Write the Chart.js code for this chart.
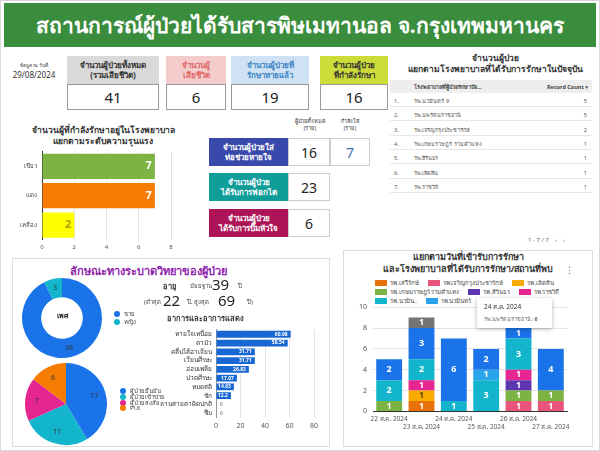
<!DOCTYPE html>
<html>
<head>
<meta charset="utf-8">
<script src="https://cdn.jsdelivr.net/npm/chart.js@4"></script>
<style>
  body { margin: 0; background: #fff; font-family: "Noto Sans", "DejaVu Sans", sans-serif; }
  #page { position: relative; width: 600px; height: 451px; overflow: hidden; background: #fff; }
  .abs { position: absolute; }
  canvas { position: absolute; }
  .hdr { position: absolute; text-align: center; font-weight: bold; font-size: 8px; line-height: 10px; display: flex; align-items: center; justify-content: center; box-sizing: border-box; }
  .val { position: absolute; text-align: center; font-size: 15px; color: #222; background: #fff; border: 1px solid #9a9a9a; box-sizing: border-box; display: flex; align-items: center; justify-content: center; }
  .trow { position: absolute; left: 390px; width: 202px; height: 14px; font-size: 5.5px; color: #555; border-bottom: 1px solid #e6e6e6; box-sizing: border-box; }
  .trow span { position: absolute; top: 4px; }
  .leg { position: absolute; font-size: 6px; color: #444; white-space: nowrap; }
  .dot { display: inline-block; width: 6px; height: 6px; border-radius: 50%; margin-right: 4px; vertical-align: middle; }
</style>
</head>
<body>
<div id="page">
  <div class="abs" style="left:0;top:0;width:598px;height:449px;border:1px solid #d8d8d8;"></div>
  <div class="abs" style="left:4px;top:3px;width:592px;height:44px;background:#3a8d3d;color:#fff;font-weight:bold;font-size:21px;display:flex;align-items:center;justify-content:center;">สถานการณ์ผู้ป่วยได้รับสารพิษเมทานอล จ.กรุงเทพมหานคร</div>

  <div class="abs" style="left:6px;top:61px;width:56px;text-align:center;font-size:5px;color:#444;">ข้อมูล ณ วันที่</div>
  <div class="abs" style="left:4px;top:69px;width:60px;text-align:center;font-size:8px;color:#333;">29/08/2024</div>
  <div id="kpis"></div>
  <div id="mid"></div>

  <div class="abs" style="left:390px;top:52px;width:210px;text-align:center;font-size:8.5px;font-weight:bold;color:#333;line-height:11px;">จำนวนผู้ป่วย<br>แยกตามโรงพยาบาลที่ได้รับการรักษาในปัจจุบัน</div>
  <div class="abs" style="left:390px;top:80px;width:202px;height:13px;background:#eeeeee;font-size:5.5px;font-weight:bold;color:#444;">
    <span class="abs" style="left:24px;top:3px;">โรงพยาบาลที่ผู้ป่วยรักษาปัจ...</span>
    <span class="abs" style="right:4px;top:3px;">Record Count ▾</span>
  </div>
  <div id="tbl"></div>
  <div class="abs" style="left:528px;top:236px;font-size:6px;color:#666;">1 - 7 / 7 &nbsp;&nbsp; ‹ &nbsp;&nbsp; ›</div>

  <div class="abs" style="left:8px;top:124px;width:190px;text-align:center;font-size:8.5px;font-weight:bold;color:#333;line-height:11px;">จำนวนผู้ที่กำลังรักษาอยู่ในโรงพยาบาล<br>แยกตามระดับความรุนแรง</div>
  <canvas id="sev" width="186" height="112" style="left:0;top:143px;"></canvas>

  <div class="abs" style="left:12px;top:258px;width:318px;height:189px;border:1px solid #dedede;box-sizing:border-box;"></div>
  <div class="abs" style="left:12px;top:262px;width:272px;text-align:center;font-size:11px;font-weight:bold;color:#8e24aa;">ลักษณะทางระบาดวิทยาของผู้ป่วย</div>
  <canvas id="sex" width="86" height="86" style="left:19px;top:275px;"></canvas>
  <div class="abs" style="left:42px;top:310px;width:40px;text-align:center;font-size:7px;font-weight:bold;color:#222;">เพศ</div>
  <div id="sexLeg"></div>
  <canvas id="type" width="86" height="86" style="left:23px;top:361px;"></canvas>
  <div id="typeLeg"></div>

  <div class="abs" style="left:163px;top:280px;font-size:7.5px;font-weight:bold;color:#333;">อายุ</div>
  <div class="abs" style="left:190px;top:281px;font-size:6px;color:#444;">มัธยฐาน</div>
  <div class="abs" style="left:212px;top:274px;font-size:15px;color:#222;">39</div>
  <div class="abs" style="left:238px;top:281px;font-size:6px;color:#444;">ปี</div>
  <div class="abs" style="left:144px;top:297px;font-size:6px;color:#444;">(ต่ำสุด</div>
  <div class="abs" style="left:163px;top:290px;font-size:15px;color:#222;">22</div>
  <div class="abs" style="left:187px;top:297px;font-size:6px;color:#444;">ปี, สูงสุด</div>
  <div class="abs" style="left:218px;top:290px;font-size:15px;color:#222;">69</div>
  <div class="abs" style="left:247px;top:297px;font-size:6px;color:#444;">ปี)</div>
  <div class="abs" style="left:150px;top:312px;width:110px;text-align:center;font-size:7.5px;font-weight:bold;color:#333;">อาการและอาการแสดง</div>
  <canvas id="sym" width="184" height="112" style="left:140px;top:322px;"></canvas>

  <div class="abs" style="left:343px;top:250px;width:250px;height:197px;border:1px solid #dedede;box-sizing:border-box;"></div>
  <div class="abs" style="left:343px;top:251px;width:250px;text-align:center;font-size:9px;font-weight:bold;color:#333;line-height:12px;">แยกตามวันที่เข้ารับการรักษา<br>และโรงพยาบาลที่ได้รับการรักษา/สถานที่พบ</div>
  <div class="abs" style="left:565px;top:263px;font-size:9px;color:#555;">⋮</div>
  <div id="dayLeg" class="abs" style="left:375px;top:279px;width:205px;height:27px;overflow:hidden;display:flex;flex-wrap:wrap;"></div>
  <canvas id="day" width="234" height="138" style="left:343px;top:297px;"></canvas>
  <div class="abs" style="left:477px;top:298px;width:75px;height:30px;background:#fff;box-shadow:0 1px 4px rgba(0,0,0,0.3);border-radius:2px;">
    <div class="abs" style="left:7px;top:4px;font-size:6.5px;color:#333;">24 ส.ค. 2024</div>
    <div class="abs" style="left:7px;top:17px;font-size:5.5px;color:#666;">รพ.นพรัตนราชธานี: <b>6</b></div>
  </div>
</div>

<script>
const FONT = '"Noto Sans", "DejaVu Sans", sans-serif';

// ตัวเลขสรุป
const kpiNames = ['จำนวนผู้ป่วยทั้งหมด<br>(รวมเสียชีวิต)', 'จำนวนผู้<br>เสียชีวิต', 'จำนวนผู้ป่วยที่<br>รักษาหายแล้ว', 'จำนวนผู้ป่วย<br>ที่กำลังรักษา'];
const kpiValues = [41, 6, 19, 16];

const treatNames = ['จำนวนผู้ป่วยใส่<br>ท่อช่วยหายใจ', 'จำนวนผู้ป่วย<br>ได้รับการฟอกไต', 'จำนวนผู้ป่วย<br>ได้รับการปั๊มหัวใจ'];
const treatTotal = [16, 23, 6];
const treatNow = [7, null, null];

// ตาราง รพ.
const hospNames = ['รพ.นวมินทร์ 9', 'รพ.นพรัตนราชธานี', 'รพ.เจริญกรุงประชารักษ์', 'รพ.เกษมราษฎร์ รามคำแหง', 'รพ.สิรินธร', 'รพ.เลิดสิน', 'รพ.ราชวิถี'];
const hospCounts = [5, 5, 2, 1, 1, 1, 1];

// ระดับความรุนแรง
const sevLabels = ['เขียว', 'แดง', 'เหลือง'];
const sevValues = [7, 7, 2];

// เพศ
const sexLabels = ['ชาย', 'หญิง'];
const sexValues = [38, 3];

// ประเภทผู้ป่วย
const typeLabels = ['ผู้ป่วยยืนยัน', 'ผู้ป่วยเข้าข่าย', 'ผู้ป่วยสงสัย', 'PUI'];
const typeValues = [17, 11, 7, 6];

// อาการ (%)
const symLabels = ['หายใจเหนื่อย', 'ตามัว', 'คลื่นไส้อาเจียน', 'เวียนศีรษะ', 'อ่อนเพลีย', 'ปวดศีรษะ', 'หมดสติ', 'ชัก', 'ลานสายตาผิดปกติ', 'ซึม'];
const symValues = [60.98, 58.54, 31.71, 31.71, 26.83, 17.07, 14.63, 12.2, 0, 0];

// วันที่เข้ารับการรักษา
const days = ['22 ส.ค. 2024', '23 ส.ค. 2024', '24 ส.ค. 2024', '25 ส.ค. 2024', '26 ส.ค. 2024', '27 ส.ค. 2024'];
const daySeries = ['รพ.เสรีรักษ์', 'รพ.เจริญกรุงประชารักษ์', 'รพ.เลิดสิน', 'รพ.เกษมราษฎร์ รามคำแหง', 'รพ.สิรินธร', 'รพ.ราชวิถี', 'รพ.นวมิน..', 'รพ.นวมินทร์', 'รพ.นพรัตนราชธานี', 'อื่นๆ'];
const dayValues = [
  [0, 1, 0, 0, 0, 0],
  [0, 0, 0, 0, 1, 1],
  [0, 1, 0, 0, 0, 0],
  [1, 0, 0, 0, 1, 1],
  [0, 0, 0, 0, 1, 0],
  [0, 1, 0, 0, 1, 0],
  [2, 2, 1, 3, 3, 0],
  [0, 0, 0, 1, 0, 0],
  [2, 3, 6, 2, 1, 4],
  [0, 1, 0, 0, 0, 0]
];
const dayColors = ['#e8710a', '#e8547c', '#f9ab00', '#7cb342', '#5e35b1', '#e52592', '#12b5cb', '#2aa5ec', '#1a73e8', '#757575'];

// ---------- กล่องตัวเลข ----------
const kpiBox = [
  {x: 67, w: 92, bg: '#d9d9d9', fg: '#333'},
  {x: 166, w: 60, bg: '#f4cccc', fg: '#e06666'},
  {x: 231, w: 78, bg: '#cfe2f3', fg: '#3d85c6'},
  {x: 320, w: 68, bg: '#cddc39', fg: '#333'}
];
let html = '';
kpiNames.forEach(function(n, i) {
  const b = kpiBox[i];
  html += `<div class="hdr" style="left:${b.x}px;top:56px;width:${b.w}px;height:28px;background:${b.bg};color:${b.fg};">${n}</div>`;
  html += `<div class="val" style="left:${b.x}px;top:84px;width:${b.w}px;height:26px;">${kpiValues[i]}</div>`;
});
document.getElementById('kpis').innerHTML = html;

html = '<div class="abs" style="left:288px;top:118px;width:44px;text-align:center;font-size:5.5px;color:#333;line-height:7px;">ผู้ป่วยทั้งหมด<br>(ราย)</div>' +
       '<div class="abs" style="left:330px;top:118px;width:40px;text-align:center;font-size:5.5px;color:#333;line-height:7px;">กำลังใส่<br>(ราย)</div>';
const treatBg = ['#3949ab', '#0f9d9a', '#ad1457'];
const treatTop = [138, 173, 209];
treatNames.forEach(function(n, i) {
  html += `<div class="hdr" style="left:209px;top:${treatTop[i]}px;width:79px;height:28px;background:${treatBg[i]};color:#fff;">${n}</div>`;
  html += `<div class="val" style="left:288px;top:${treatTop[i]}px;width:42px;height:28px;font-size:14px;border-color:#ccc;">${treatTotal[i]}</div>`;
  if (treatNow[i] !== null) {
    html += `<div class="val" style="left:330px;top:${treatTop[i]}px;width:40px;height:28px;font-size:14px;color:#3d6fb6;border-color:#ccc;">${treatNow[i]}</div>`;
  }
});
document.getElementById('mid').innerHTML = html;

html = '';
hospNames.forEach(function(n, i) {
  html += `<div class="trow" style="top:${93 + i * 14.3}px;"><span style="left:4px;">${i + 1}.</span><span style="left:24px;">${n}</span><span style="right:5px;">${hospCounts[i]}</span></div>`;
});
document.getElementById('tbl').innerHTML = html;

function legend(id, labels, colors, x, y, gap) {
  let s = '';
  labels.forEach(function(l, i) {
    s += `<div class="leg" style="left:${x}px;top:${y + i * gap}px;"><span class="dot" style="background:${colors[i]}"></span>${l}</div>`;
  });
  document.getElementById(id).innerHTML = s;
}
const sexColors = ['#1a73e8', '#12b5cb'];
const typeColors = ['#1a73e8', '#12b5cb', '#e52592', '#f57c00'];
legend('sexLeg', sexLabels, sexColors, 114, 309, 8);
legend('typeLeg', typeLabels, typeColors, 120, 386, 6);

let lg = '';
daySeries.forEach(function(s, i) {
  lg += `<div style="font-size:6px;color:#444;white-space:nowrap;margin-right:9px;height:9px;line-height:9px;"><span style="display:inline-block;width:12px;height:6px;background:${dayColors[i]};margin-right:3px;vertical-align:-1px;"></span>${s}</div>`;
});
document.getElementById('dayLeg').innerHTML = lg;

// ---------- ป้ายตัวเลขบนกราฟ ----------
const valueLabels = {
  id: 'valueLabels',
  afterDatasetsDraw(chart, args, opts) {
    if (!opts.mode) return;
    const ctx = chart.ctx;
    ctx.save();
    ctx.font = (opts.bold ? 'bold ' : '') + opts.size + 'px ' + FONT;
    ctx.textBaseline = 'middle';
    chart.data.datasets.forEach(function(ds, di) {
      const meta = chart.getDatasetMeta(di);
      meta.data.forEach(function(el, i) {
        const v = ds.data[i];
        if (v === null || v === undefined) return;
        ctx.fillStyle = typeof opts.color === 'function' ? opts.color(di, i) : opts.color;
        if (opts.mode === 'end') {
          if (v === 0) {
            ctx.fillStyle = '#999';
            ctx.textAlign = 'left';
            ctx.fillText('0', el.x + 4, el.y);
          } else {
            ctx.textAlign = 'right';
            ctx.fillText(String(v), el.x - 3, el.y);
          }
        } else if (opts.mode === 'center') {
          if (!v) return;
          ctx.textAlign = 'center';
          ctx.fillText(String(v), el.x, (el.y + el.base) / 2);
        } else if (opts.mode === 'arc') {
          const a = (el.startAngle + el.endAngle) / 2;
          const r = el.innerRadius + (el.outerRadius - el.innerRadius) * opts.pos;
          ctx.textAlign = 'center';
          ctx.fillText(String(v), el.x + Math.cos(a) * r, el.y + Math.sin(a) * r);
        }
      });
    });
    ctx.restore();
  }
};
Chart.register(valueLabels);
Chart.defaults.font.family = FONT;
Chart.defaults.animation = false;
Chart.defaults.responsive = false;
Chart.defaults.plugins.legend.display = false;
Chart.defaults.plugins.tooltip.enabled = false;

// ระดับความรุนแรง
const sevColors = ['#7cb342', '#f57c00', '#ffff00'];
new Chart(document.getElementById('sev'), {
  type: 'bar',
  data: { labels: sevLabels, datasets: [{ data: sevValues, backgroundColor: sevColors, barPercentage: 0.86, categoryPercentage: 1 }] },
  options: {
    indexAxis: 'y',
    layout: { padding: { top: 4, right: 15 } },
    scales: {
      x: { min: 0, max: 8, ticks: { stepSize: 2, font: { size: 6 }, color: '#555', padding: 4 },
           grid: { color: '#e4e4e4', drawTicks: false }, border: { display: false } },
      y: { ticks: { font: { size: 6 }, color: '#444', padding: 5 }, grid: { display: false, drawTicks: false },
           border: { color: '#333' }, afterFit: function(s) { s.width = 42; } }
    },
    plugins: { valueLabels: { mode: 'end', size: 11, bold: true, color: function(d, i) { return ['#fff', '#fff', '#b59a00'][i]; } } }
  }
});

// เพศ
new Chart(document.getElementById('sex'), {
  type: 'doughnut',
  data: { labels: sexLabels, datasets: [{ data: sexValues, backgroundColor: sexColors, borderWidth: 0 }] },
  options: {
    cutout: '52%',
    layout: { padding: 3 },
    plugins: { valueLabels: { mode: 'arc', pos: 0.5, size: 7, color: '#333' } }
  }
});

// ประเภทผู้ป่วย
new Chart(document.getElementById('type'), {
  type: 'pie',
  data: { labels: typeLabels, datasets: [{ data: typeValues, backgroundColor: typeColors, borderWidth: 0 }] },
  options: {
    layout: { padding: 2 },
    plugins: { valueLabels: { mode: 'arc', pos: 0.72, size: 7, color: '#333' } }
  }
});

// อาการ
new Chart(document.getElementById('sym'), {
  type: 'bar',
  data: { labels: symLabels, datasets: [{ data: symValues, backgroundColor: '#1967d2', barPercentage: 0.78, categoryPercentage: 1 }] },
  options: {
    indexAxis: 'y',
    layout: { padding: { top: 5, right: 10 } },
    scales: {
      x: { min: 0, max: 80, ticks: { stepSize: 20, font: { size: 7 }, color: '#555', padding: 4 },
           grid: { color: '#e4e4e4', drawTicks: false }, border: { display: false } },
      y: { ticks: { font: { size: 6.5 }, color: '#333', padding: 4, autoSkip: false }, grid: { display: false, drawTicks: false },
           border: { color: '#999' }, afterFit: function(s) { s.width = 76; } }
    },
    plugins: { valueLabels: { mode: 'end', size: 5, bold: true, color: '#fff' } }
  }
});

// วันที่เข้ารับการรักษา
new Chart(document.getElementById('day'), {
  type: 'bar',
  data: {
    labels: days,
    datasets: daySeries.map(function(s, i) {
      return { label: s, data: dayValues[i], backgroundColor: dayColors[i], barPercentage: 0.8, categoryPercentage: 1 };
    })
  },
  options: {
    layout: { padding: { top: 6, right: 10 } },
    scales: {
      x: { stacked: true, grid: { display: false, drawTicks: false }, border: { color: '#333' },
           ticks: { font: { size: 6.5 }, color: '#555', padding: 4, maxRotation: 0, autoSkip: false,
                    callback: function(v, i) { return i % 2 ? ['', days[i]] : days[i]; } } },
      y: { stacked: true, min: 0, max: 10, ticks: { stepSize: 1, font: { size: 7 }, color: '#555', padding: 6,
                    callback: function(v) { return v % 2 ? '' : v; } },
           grid: { drawTicks: false, color: function(c) { return c.tick && c.tick.value % 2 ? '#f2f2f2' : '#e2e2e2'; } },
           border: { display: false }, afterFit: function(s) { s.width = 30; } }
    },
    plugins: { valueLabels: { mode: 'center', size: 9, bold: true, color: function(d) { return d === 2 ? '#5a4500' : '#fff'; } } }
  }
});
</script>
</body>
</html>
